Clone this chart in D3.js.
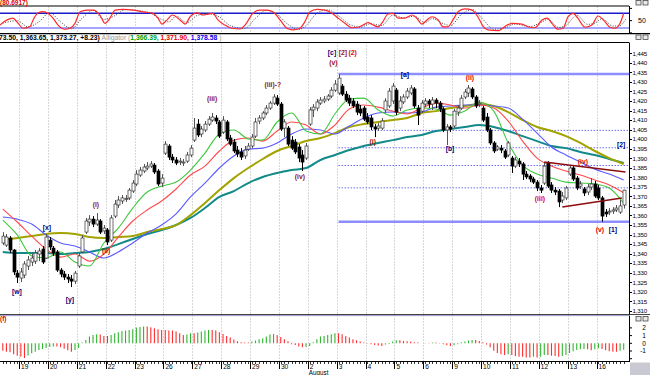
<!DOCTYPE html>
<html><head><meta charset="utf-8">
<script src="https://cdn.jsdelivr.net/npm/d3@7"></script>
<style>
html,body{margin:0;padding:0;background:#fff;}
svg{display:block;font-family:"Liberation Sans",Arial,sans-serif;}
</style></head><body>
<svg id="c" width="650" height="375"></svg>
<script>
// ---------------- DATA ----------------
const opens=[1345.6,1344.5,1348.2,1341.9,1329.8,1327.2,1328.8,1333.5,1335.6,1336.1,1339.8,1342.4,1337.7,1347.1,1342.9,1340.9,1331.4,1329.3,1327.7,1326.7,1325.6,1333.5,1340.9,1351.3,1356.6,1358.1,1355.5,1357.1,1351.9,1352.4,1347.1,1359.7,1365.5,1367.6,1368.6,1369.2,1372.8,1376.5,1381.2,1383.3,1384.9,1385.9,1386.4,1383.3,1377.0,1392.7,1396.4,1390.6,1389.1,1388.0,1387.5,1388.5,1391.7,1399.5,1407.9,1402.7,1404.8,1407.9,1410.0,1411.1,1409.0,1403.7,1409.0,1400.6,1398.5,1394.3,1393.3,1391.2,1394.8,1396.4,1401.6,1409.5,1411.1,1413.7,1416.3,1418.9,1421.5,1418.4,1405.8,1405.8,1399.5,1398.5,1395.9,1391.7,1390.1,1407.9,1415.3,1416.3,1418.9,1420.0,1421.0,1422.6,1425.7,1424.2,1427.8,1423.6,1421.5,1420.0,1418.4,1415.8,1416.3,1411.6,1411.1,1406.4,1405.8,1405.8,1415.3,1417.4,1420.0,1425.7,1416.3,1419.5,1422.1,1424.2,1426.3,1416.3,1414.7,1418.4,1420.0,1418.4,1420.5,1418.9,1415.8,1404.8,1406.4,1406.9,1414.2,1416.3,1422.1,1424.2,1426.3,1422.1,1418.4,1416.3,1411.6,1404.8,1398.0,1394.8,1395.3,1393.8,1391.7,1390.1,1385.9,1388.5,1387.0,1381.7,1380.7,1379.1,1377.5,1374.4,1377.0,1387.5,1376.0,1373.3,1372.8,1368.1,1369.2,1381.7,1384.9,1379.6,1375.4,1373.9,1372.3,1374.9,1376.5,1374.4,1369.2,1361.8,1361.8,1362.3,1362.9,1361.8,1365.5];
const highs=[1351.3,1350.3,1349.2,1342.4,1331.4,1332.5,1336.1,1338.8,1339.8,1341.9,1342.9,1344.0,1350.3,1348.7,1344.0,1341.9,1332.5,1330.9,1329.3,1328.8,1330.9,1340.3,1349.8,1358.7,1360.2,1359.7,1361.3,1358.1,1355.0,1353.4,1360.2,1368.1,1370.2,1370.7,1370.7,1374.4,1378.6,1383.8,1385.4,1387.0,1388.0,1388.5,1387.5,1384.3,1381.7,1399.0,1397.4,1392.2,1390.6,1390.1,1389.6,1393.3,1396.9,1411.1,1410.5,1406.9,1409.5,1412.1,1413.7,1412.6,1410.0,1412.1,1410.0,1402.2,1400.1,1396.4,1395.3,1396.4,1398.0,1402.7,1411.1,1412.6,1414.7,1417.9,1420.0,1423.6,1423.1,1419.5,1410.5,1406.9,1401.6,1400.1,1397.4,1394.3,1398.0,1416.8,1418.4,1421.0,1422.1,1422.6,1423.6,1427.3,1431.0,1434.2,1428.9,1425.2,1423.1,1421.5,1420.0,1417.9,1417.4,1413.7,1412.6,1407.9,1408.4,1411.1,1421.5,1426.8,1429.4,1426.8,1422.6,1423.6,1426.8,1428.4,1427.3,1417.9,1420.5,1421.5,1421.0,1422.1,1421.5,1420.0,1416.8,1407.9,1407.4,1415.8,1417.9,1423.1,1426.3,1428.4,1427.3,1423.1,1420.5,1417.4,1413.7,1405.8,1399.0,1396.9,1396.9,1394.8,1399.0,1391.2,1390.6,1390.1,1388.0,1383.3,1381.7,1380.2,1378.6,1376.0,1388.0,1388.5,1377.5,1374.9,1373.9,1372.3,1375.4,1386.4,1385.9,1380.7,1378.1,1374.9,1376.5,1379.6,1378.1,1376.0,1370.2,1363.4,1363.9,1364.4,1365.5,1368.1,1373.5];
const lows=[1344.5,1343.5,1340.3,1328.8,1324.6,1325.1,1327.2,1331.4,1333.5,1334.6,1336.1,1334.6,1337.2,1341.9,1338.8,1330.4,1327.7,1326.2,1324.6,1322.5,1324.1,1332.5,1340.3,1350.3,1354.5,1353.9,1354.5,1350.3,1350.3,1344.5,1346.1,1358.7,1363.9,1366.0,1367.1,1368.1,1371.8,1375.4,1380.2,1382.3,1383.8,1384.9,1381.7,1375.4,1374.9,1391.7,1389.1,1387.5,1386.4,1386.4,1385.9,1387.5,1390.6,1398.5,1401.1,1401.1,1403.7,1406.9,1409.0,1407.9,1400.6,1402.7,1399.0,1396.4,1392.7,1390.6,1389.1,1389.6,1393.8,1395.3,1400.6,1407.9,1410.0,1412.6,1415.3,1417.9,1417.4,1404.3,1401.1,1396.4,1394.3,1392.2,1388.0,1383.3,1389.1,1406.9,1411.6,1414.7,1417.9,1418.9,1420.0,1421.5,1424.7,1423.1,1422.6,1419.5,1417.4,1416.3,1412.6,1412.1,1409.5,1407.9,1404.8,1401.1,1404.3,1404.8,1413.7,1416.3,1418.4,1412.6,1414.7,1418.4,1421.0,1423.1,1416.3,1407.4,1413.7,1416.8,1416.3,1415.3,1416.3,1414.2,1403.7,1396.9,1403.7,1405.8,1412.1,1415.3,1421.0,1422.1,1421.0,1416.3,1416.8,1409.0,1403.7,1396.9,1392.7,1393.8,1392.7,1389.6,1390.6,1382.3,1384.9,1385.4,1378.6,1379.1,1377.5,1376.5,1372.8,1371.8,1376.0,1374.4,1371.8,1370.7,1364.4,1366.5,1368.1,1380.7,1378.1,1373.3,1373.9,1370.2,1370.7,1373.3,1369.2,1368.1,1356.7,1359.2,1360.2,1360.8,1361.8,1360.8,1363.65];
const closes=[1349.2,1348.7,1341.9,1330.4,1327.7,1330.4,1334.6,1336.7,1337.7,1340.3,1341.4,1335.6,1348.7,1343.5,1340.3,1331.4,1329.3,1327.7,1326.7,1325.6,1329.8,1338.8,1348.2,1357.1,1358.1,1355.5,1357.6,1351.3,1353.4,1346.1,1358.7,1366.0,1368.1,1369.2,1368.9,1373.3,1377.0,1381.7,1383.8,1385.4,1385.9,1387.0,1382.8,1376.5,1379.6,1397.4,1390.6,1389.1,1387.5,1388.5,1388.0,1391.7,1395.3,1405.8,1402.2,1405.3,1407.9,1410.5,1411.6,1409.5,1401.6,1410.0,1400.1,1397.4,1393.8,1392.2,1390.6,1394.3,1396.4,1401.1,1409.0,1411.1,1413.7,1416.3,1418.9,1422.1,1418.4,1405.3,1409.0,1397.4,1395.3,1393.3,1390.1,1388.0,1396.4,1415.3,1416.8,1419.5,1420.5,1421.0,1422.6,1425.7,1428.9,1432.0,1423.6,1420.5,1418.9,1417.4,1414.2,1413.7,1410.5,1409.0,1406.4,1405.3,1406.9,1409.5,1420.0,1425.2,1427.8,1414.2,1420.0,1422.1,1425.2,1426.8,1417.4,1412.6,1418.9,1420.0,1418.4,1420.5,1418.9,1415.8,1404.8,1406.4,1405.3,1414.7,1416.3,1421.5,1424.7,1426.8,1422.1,1417.4,1418.9,1410.0,1404.8,1398.0,1393.8,1395.9,1394.3,1390.6,1398.0,1385.9,1389.1,1387.0,1381.7,1380.2,1379.1,1377.5,1374.4,1373.3,1385.9,1375.4,1373.3,1372.3,1367.1,1370.2,1374.4,1384.9,1379.1,1374.4,1376.5,1371.8,1374.9,1376.5,1370.2,1369.2,1359.7,1360.8,1362.3,1362.9,1363.9,1365.0,1373.27];

// moving-average lines read at every 4th bar
const lineIdx=d3.range(0,173,4);
const lips =[1357.6,1349.8,1338.8,1337.7,1340.9,1335.6,1333.5,1345.6,1353.4,1363.9,1372.3,1375.4,1377.5,1383.8,1392.7,1402.7,1404.8,1400.1,1399.5,1409.0,1413.7,1404.3,1402.7,1413.2,1421.0,1421.5,1415.3,1412.1,1415.3,1416.3,1415.8,1412.6,1414.7,1419.5,1414.7,1398.0,1386.4,1381.7,1379.6,1377.5,1377.0,1376.5,1374.4,1366.4];
const teeth=[1363.4,1356.6,1349.2,1342.4,1338.2,1339.8,1336.1,1339.8,1348.7,1357.1,1362.9,1367.6,1373.9,1381.2,1385.9,1393.8,1399.5,1400.6,1399.0,1404.3,1409.0,1407.4,1402.7,1407.4,1415.8,1417.9,1416.8,1414.7,1413.2,1416.3,1418.9,1417.9,1416.3,1417.9,1416.3,1409.5,1399.0,1390.1,1385.9,1383.3,1381.2,1378.6,1376.0,1371.9];
const jaw  =[1359.2,1358.1,1355.5,1349.8,1345.6,1344.0,1340.9,1337.7,1340.9,1345.6,1350.8,1355.0,1360.8,1369.7,1377.0,1384.9,1391.2,1394.8,1395.3,1398.0,1402.7,1405.3,1404.8,1402.7,1406.9,1411.1,1413.7,1414.2,1413.7,1414.2,1416.8,1417.4,1417.9,1417.9,1417.4,1416.3,1410.5,1403.2,1395.9,1391.7,1388.0,1384.3,1381.7,1378.58];
const maOlive=[1347.1,1348.2,1349.2,1350.3,1350.8,1350.3,1348.7,1348.2,1348.7,1349.2,1351.3,1352.9,1355.0,1360.2,1366.5,1373.3,1379.6,1384.9,1389.6,1393.8,1396.4,1399.0,1400.6,1403.2,1406.4,1407.9,1409.0,1410.0,1411.1,1413.7,1414.7,1416.3,1417.4,1418.4,1417.4,1414.2,1410.0,1406.4,1404.3,1401.6,1398.0,1393.8,1390.1,1387.0];
const maTeal =[1340.9,1340.3,1340.3,1340.3,1339.8,1340.3,1340.9,1342.4,1345.0,1347.7,1350.3,1352.4,1355.0,1358.7,1363.9,1369.7,1372.8,1377.0,1380.2,1382.3,1383.8,1384.9,1389.1,1391.7,1394.3,1396.4,1398.0,1399.5,1401.1,1402.2,1404.3,1405.3,1406.4,1407.4,1406.4,1404.3,1401.6,1399.0,1396.4,1395.3,1393.3,1391.7,1389.6,1387.5];

// Fibonacci retracement levels (from the bar-93 high to the bar-166 low)
const fibStartBar=93;
const fibLevels=[1434.2,1404.6,1395.5,1386.2,1374.5,1356.7];
const fibSolid=[true,false,false,false,false,true];

// triangle trendlines [bar, price]
const trendUpper=[[150,1388.0],[172.5,1382.8]];
const trendLower=[[155,1364.4],[171.5,1369.2]];

// stochastic
const stochKIdx=[-0.8,1.2,2.8,4.2,5.6,7.5,8.4,9.8,11.1,12.5,13.9,15.3,17.2,18.6,20.0,21.4,23.3,25.0,26.9,28.3,29.7,31.1,33.3,36.1,38.8,41.6,43.0,44.1,45.5,46.9,49.1,50.5,51.9,53.8,55.5,56.8,58.2,59.6,61.5,63.5,65.7,67.1,69.3,71.2,73.2,74.8,76.8,78.7,80.4,82.3,83.7,85.1,87.0,89.2,91.2,92.9,94.8,96.7,98.4,99.8,101.2,102.6,104.0,105.3,106.7,108.1,109.5,111.4,113.4,114.7,116.1,117.5,118.9,120.6,122.0,123.3,124.7,126.1,128.0,130.0,131.6,133.0,134.4,137.2,139.7,141.3,143.8,145.5,147.4,149.4,150.8,152.1,153.8,155.2,156.6,158.0,159.3,161.3,163.2,164.9,166.8,168.2,169.6,171.0,172.0];
const stochK=[32,53,60,40,19,25,53,82,87,80,60,32,15,19,39,86,93,93,73,39,60,93,96,93,86,80,60,36,53,73,53,36,66,82,73,77,80,53,32,19,16,32,80,93,93,86,53,19,12,19,46,86,96,93,80,60,39,21,23,32,42,32,25,46,77,80,60,60,73,60,36,53,66,53,25,25,53,86,98,93,66,28,12,9,32,39,36,25,21,53,60,39,15,19,66,80,60,23,32,69,46,23,19,39,80];
const stochDIdx=[0,4,7,10,13,16,19,22,25,28,31,34,40,44,46,48,51,54,57,60,63,67,70,73,76,79,82,84,87,90,93,96,99,102,105,108,111,114,117,119,122,124,127,130,133,136,139,142,146,149,151,154,156,159,162,164,166,169,171,172.5];
const stochD=[40,50,25,45,82,45,17,60,92,55,70,95,85,55,45,68,42,72,78,65,30,18,60,92,75,35,14,30,80,94,70,35,24,37,30,72,62,68,42,58,38,30,75,95,55,15,20,36,26,42,55,22,30,72,35,40,58,28,30,55];
const stochBands=[80,20];
const stochTitle="(80.6917)";

// awesome oscillator histogram, one value per bar
const ao=[-0.96,-1.09,-1.17,-1.43,-1.61,-1.74,-1.91,-1.57,-1.30,-1.09,
-0.87,-0.74,-0.61,-0.48,-0.43,-0.43,-0.52,-0.70,-0.91,-1.09,
-0.87,-0.61,0.10,0.43,0.87,1.09,1.17,1.13,0.96,0.96,
1.09,1.30,1.43,1.61,1.65,1.74,1.83,2.04,2.13,2.17,
2.17,2.09,1.96,1.83,1.74,1.74,1.65,1.65,1.52,1.30,
1.09,1.13,1.30,1.30,1.39,1.52,1.65,1.74,1.74,1.65,
1.43,1.22,0.96,0.74,0.48,0.26,0.13,0.09,0.09,0.22,
0.35,0.52,0.65,0.87,1.13,1.22,1.09,0.83,0.52,0.26,
-0.13,-0.22,-0.43,-0.52,-0.48,-0.35,0.15,0.52,0.87,0.96,
1.09,1.17,1.30,1.30,1.17,0.96,0.74,0.52,0.39,0.22,
0.09,-0.04,-0.13,-0.22,-0.30,-0.35,-0.17,-0.09,0.22,0.39,
0.39,0.30,0.26,0.22,0.13,0.09,0.02,0.04,0.04,0.09,
0.09,0.04,-0.13,-0.26,-0.35,-0.26,-0.13,0.13,0.22,0.35,
0.43,0.43,0.30,0.13,-0.17,-0.52,-0.96,-1.26,-1.43,-1.52,
-1.43,-1.52,-1.65,-1.74,-1.74,-1.83,-1.83,-1.74,-1.83,-1.74,
-1.52,-1.52,-1.61,-1.65,-1.74,-1.65,-1.52,-1.26,-1.04,-0.87,
-0.78,-0.74,-0.78,-0.91,-0.78,-0.65,-0.74,-0.91,-1.04,-1.09,
-1.09,-0.96,-0.83];
const aoTicks=[2,1,0,-1];
const aoTitle="(f)";

// time axis
const dayStart=[5,13,21,29,37,45,53,61,69,77,85,93,101,109,117,125,133,141,149,157,165];
const dayLabels=["19","20","21","22","23","26","27","28","29","30","2","3","4","5","6","9","10","11","12","13","16"];
const monthLabel={text:"August",day:"2"};
const priceTicks=d3.range(1310,1446,5);

// legend
const ohlcText="73.50, 1,363.65, 1,373.27, +8.23)";
const alligatorName="Alligator (";
const alligatorVals=["1,366.39,","1,371.90,","1,378.58"];

// wave labels
const labelText =["[w]","[x]","[y]","(i)","(ii)","(iii)","(iii)-?","(iv)","(v)","[c]","[2]","(2)","[a]","(i)","[b]","(ii)","(iii)","(iv)","(v)","[1]","[2]"];
const labelBar  =[3.9,12.2,18.6,25.8,28.6,58,74.8,82.3,91.6,91.2,94.2,96.9,111.4,102.5,123.9,129.4,148.8,160.7,165.4,169,171.3];
const labelPrice=[1319.9,1353.4,1315.7,1365.5,1341.4,1421.0,1428.4,1380.2,1439.9,1445.3,1445.3,1445.3,1433.6,1398.5,1394.8,1432.5,1368.6,1388.0,1352.4,1352.4,1397.2];
const labelKind =["major","major","major","minor","minor","minor","minor","minor","minor","major","primary","inter","major","minor","major","minor2","minor2","minor2","minor2","major","major"];

// ---------------- STYLE / LAYOUT ----------------
const colors={candleUp:"#ffffff",candleDown:"#000000",lips:"#3cc83c",teeth:"#ff4a4a",jaw:"#5a5aff",olive:"#a3a300",teal:"#138a8a",
 fibSolid:"#8e8eff",fibDot:"#6e6ef5",trend:"#8b0d0d",stochK:"#ff2a2a",stochD:"#444",bandHi:"#1a1ac8",bandLo:"#a4a4ff",
 aoUp:"#2fb52f",aoDown:"#ff2d2d",grid:"#b0b0b0",
 major:"#00007a",minor:"#9a1010",minor2:"#e00000",primary:"#a01010",inter:"#e00000"};

const svg=d3.select("#c");
const RIGHT=629;
const x=d3.scaleLinear().domain([-0.5,172.5]).range([1,625.5]);
const y=d3.scaleLinear().domain([1310,1445]).range([310.9,53.3]);
const ys=d3.scaleLinear().domain([0,100]).range([32.9,8.4]);
const ya=d3.scaleLinear().domain([-1,1]).range([351.0,335.6]);

const panels={stoch:[6.5,33.3],main:[42.5,314.5],ao:[315.5,361]};
const defs=svg.append("defs");
Object.entries(panels).forEach(([k,[t,b]])=>{
  defs.append("clipPath").attr("id","clip-"+k).append("rect").attr("x",0).attr("y",t).attr("width",RIGHT).attr("height",b-t);
});

// vertical day gridlines
Object.entries(panels).forEach(([k,[t,b]])=>{
  svg.append("g").selectAll("line").data(dayStart).join("line")
    .attr("x1",d=>Math.round(x(d-0.5))+0.5).attr("x2",d=>Math.round(x(d-0.5))+0.5)
    .attr("y1",t).attr("y2",b).attr("stroke",colors.grid).attr("stroke-width",1).attr("stroke-dasharray","1,2");
});

// ---- stochastic panel ----
const gs=svg.append("g").attr("clip-path","url(#clip-stoch)");
stochBands.forEach((v,i)=>{
  gs.append("line").attr("x1",0).attr("x2",RIGHT).attr("y1",ys(v)).attr("y2",ys(v))
   .attr("stroke",i===0?colors.bandHi:colors.bandLo).attr("stroke-width",i===0?1.5:2);
});
const stLine=d3.line().x(d=>x(d[0])).y(d=>ys(d[1])).curve(d3.curveMonotoneX);
gs.append("path").attr("d",stLine(stochDIdx.map((d,i)=>[d,stochD[i]]))).attr("fill","none")
  .attr("stroke",colors.stochD).attr("stroke-width",1).attr("stroke-dasharray","1,1.5");
gs.append("path").attr("d",stLine(stochKIdx.map((d,i)=>[d,stochK[i]]))).attr("fill","none")
  .attr("stroke",colors.stochK).attr("stroke-width",1.2);
svg.append("line").attr("x1",0).attr("x2",RIGHT).attr("y1",6).attr("y2",6).attr("stroke","#000").attr("stroke-width",1.2);
svg.append("line").attr("x1",0).attr("x2",650).attr("y1",33.6).attr("y2",33.6).attr("stroke","#000").attr("stroke-width",1.4);
svg.append("text").attr("x",0).attr("y",5).attr("font-size",6.5).attr("font-weight","bold").attr("fill","#e00000").text(stochTitle);
// stoch axis
svg.append("line").attr("x1",RIGHT+0.5).attr("x2",RIGHT+0.5).attr("y1",6).attr("y2",33.3).attr("stroke","#000");
[100,50,0].forEach(v=>svg.append("line").attr("x1",RIGHT).attr("x2",RIGHT+3).attr("y1",ys(v)).attr("y2",ys(v)).attr("stroke","#000"));
svg.append("text").attr("x",638).attr("y",ys(50)+2.5).attr("font-size",7).text("50");

// ---- legend row ----
const lg=svg.append("text").attr("x",-1).attr("y",40.3).attr("font-size",6.8).attr("font-weight","bold");
lg.append("tspan").attr("fill","#000").text(ohlcText+" ");
lg.append("tspan").attr("fill","#999").attr("font-weight","normal").text(alligatorName);
["#00a000","#f00000","#0000f0"].forEach((c,i)=>lg.append("tspan").attr("fill",c).text(alligatorVals[i]+" "));
lg.append("tspan").attr("fill","#999").attr("font-weight","normal").text(")");

// ---- main panel ----
const gm=svg.append("g").attr("clip-path","url(#clip-main)");
gm.append("g").selectAll("line").data(fibLevels).join("line")
  .attr("x1",x(fibStartBar)).attr("x2",RIGHT).attr("y1",d=>y(d)).attr("y2",d=>y(d))
  .attr("stroke",(d,i)=>fibSolid[i]?colors.fibSolid:colors.fibDot)
  .attr("stroke-width",(d,i)=>fibSolid[i]?2.5:1)
  .attr("stroke-dasharray",(d,i)=>fibSolid[i]?null:"1.5,1.5");
const maLine=d3.line().x((d,i)=>x(lineIdx[i])).y(d=>y(d)).curve(d3.curveMonotoneX);
[[maTeal,colors.teal,2],[maOlive,colors.olive,2],[jaw,colors.jaw,1.1],[teeth,colors.teeth,1.1],[lips,colors.lips,1.1]].forEach(([arr,c,w])=>{
  gm.append("path").attr("d",maLine(arr)).attr("fill","none").attr("stroke",c).attr("stroke-width",w);
});
const bars=d3.range(opens.length);
const cg=gm.append("g");
cg.selectAll("line.w").data(bars).join("line").attr("class","w")
  .attr("x1",i=>Math.round(x(i))+0.5).attr("x2",i=>Math.round(x(i))+0.5)
  .attr("y1",i=>y(highs[i])).attr("y2",i=>y(lows[i]))
  .attr("stroke",i=>closes[i]>=opens[i]?"#555":"#000").attr("stroke-width",1);
cg.selectAll("rect").data(bars).join("rect")
  .attr("x",i=>Math.round(x(i))-1).attr("width",3)
  .attr("y",i=>y(Math.max(opens[i],closes[i])))
  .attr("height",i=>Math.max(1,Math.abs(y(opens[i])-y(closes[i]))))
  .attr("fill",i=>closes[i]>=opens[i]?colors.candleUp:colors.candleDown)
  .attr("stroke",i=>closes[i]>=opens[i]?"#333":"#000").attr("stroke-width",0.7);
[trendUpper,trendLower].forEach(t=>{
  gm.append("line").attr("x1",x(t[0][0])).attr("y1",y(t[0][1])).attr("x2",x(t[1][0])).attr("y2",y(t[1][1]))
   .attr("stroke",colors.trend).attr("stroke-width",1.5);
});
gm.append("g").selectAll("text").data(labelText).join("text")
  .attr("x",(d,i)=>x(labelBar[i])).attr("y",(d,i)=>y(labelPrice[i])+2.4)
  .attr("text-anchor","middle").attr("font-size",6.8).attr("font-weight","bold")
  .attr("fill",(d,i)=>colors[labelKind[i]]).text(d=>d);

// frame lines
svg.append("line").attr("x1",0).attr("x2",RIGHT).attr("y1",42.5).attr("y2",42.5).attr("stroke","#000").attr("stroke-width",1.2);
svg.append("line").attr("x1",0).attr("x2",650).attr("y1",314.5).attr("y2",314.5).attr("stroke","#444").attr("stroke-width",1);
svg.append("line").attr("x1",0).attr("x2",RIGHT).attr("y1",315.6).attr("y2",315.6).attr("stroke","#9a9ac8").attr("stroke-width",1);
// price axis
svg.append("line").attr("x1",RIGHT+0.5).attr("x2",RIGHT+0.5).attr("y1",42.5).attr("y2",314.5).attr("stroke","#000");
const pa=svg.append("g");
pa.selectAll("line").data(priceTicks).join("line").attr("x1",RIGHT).attr("x2",RIGHT+3)
  .attr("y1",d=>Math.round(y(d))+0.5).attr("y2",d=>Math.round(y(d))+0.5).attr("stroke","#000");
pa.selectAll("text").data(priceTicks).join("text").attr("x",632.5).attr("y",d=>y(d)+2.3)
  .attr("font-size",6.2).attr("letter-spacing",-0.2).attr("fill","#000").text(d=>d3.format(",")(d));

// ---- AO panel ----
const ga=svg.append("g").attr("clip-path","url(#clip-ao)");
ga.selectAll("line").data(bars).join("line")
  .attr("x1",i=>x(i)).attr("x2",i=>x(i)).attr("y1",ya(0)).attr("y2",i=>ya(ao[i]))
  .attr("stroke",i=>(i>0&&ao[i]>ao[i-1])?colors.aoUp:colors.aoDown).attr("stroke-width",1.1);
svg.append("text").attr("x",0).attr("y",321).attr("font-size",6.5).attr("font-weight","bold").attr("fill","#e00000").text(aoTitle);
svg.append("line").attr("x1",RIGHT+0.5).attr("x2",RIGHT+0.5).attr("y1",315.5).attr("y2",361).attr("stroke","#000");
[2,1,0,-1,-2].forEach(v=>svg.append("line").attr("x1",RIGHT).attr("x2",RIGHT+3).attr("y1",ya(v)).attr("y2",ya(v)).attr("stroke","#000"));
svg.append("g").selectAll("text").data(aoTicks).join("text").attr("x",646).attr("y",d=>ya(d)+2.4)
  .attr("text-anchor","end").attr("font-size",6.6).text(d=>d);

// ---- time axis ----
svg.append("line").attr("x1",0).attr("x2",RIGHT+1).attr("y1",361.5).attr("y2",361.5).attr("stroke","#000").attr("stroke-width",1.2);
svg.append("g").selectAll("line").data(bars).join("line")
  .attr("x1",i=>Math.round(x(i))+0.5).attr("x2",i=>Math.round(x(i))+0.5).attr("y1",362).attr("y2",364).attr("stroke","#000").attr("stroke-width",0.8);
const ta=svg.append("g");
ta.selectAll("line").data(dayStart).join("line")
  .attr("x1",d=>Math.round(x(d-0.5))+0.5).attr("x2",d=>Math.round(x(d-0.5))+0.5).attr("y1",361.5).attr("y2",369).attr("stroke","#000");
ta.selectAll("text").data(dayStart).join("text").attr("x",d=>x(d-0.5)+2).attr("y",368.5)
  .attr("font-size",6.6).text((d,i)=>dayLabels[i]);
const mIdx=dayLabels.indexOf(monthLabel.day);
svg.append("text").attr("x",x(dayStart[mIdx]-0.5)+1).attr("y",375).attr("font-size",6.3).attr("fill","#000").text(monthLabel.text);

// window controls & corner box
[0.5,35,316.5].forEach(t=>{
  [636,643].forEach(l=>svg.append("rect").attr("x",l).attr("y",t).attr("width",5).attr("height",4.5)
   .attr("fill","#e8e8e8").attr("stroke","#333").attr("stroke-width",0.7));
});
svg.append("rect").attr("x",630).attr("y",362.5).attr("width",20).attr("height",12.5).attr("fill","#c9c9d3");
</script>
</body></html>
